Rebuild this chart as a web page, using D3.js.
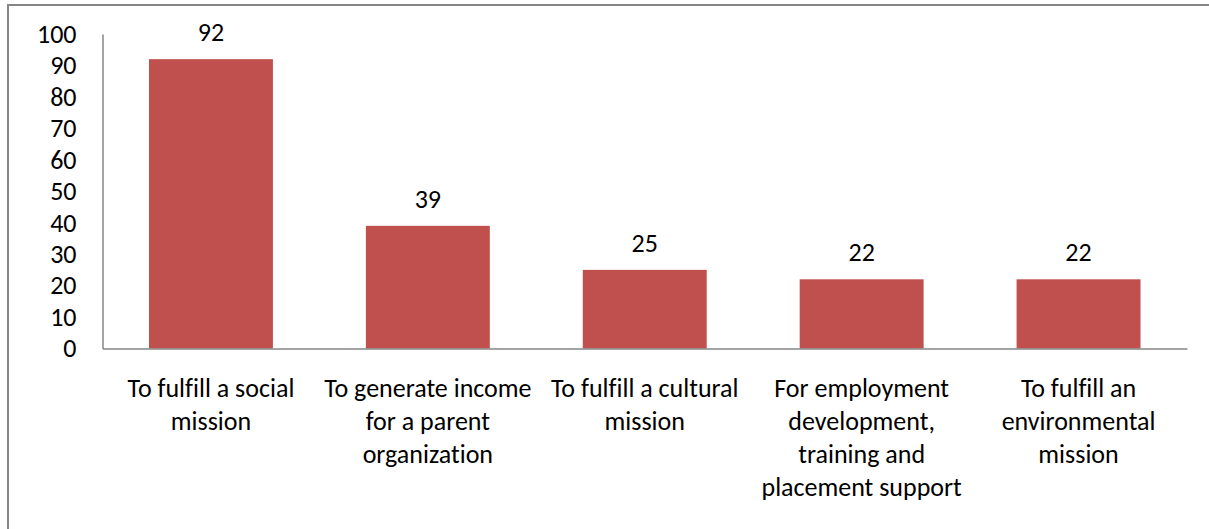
<!DOCTYPE html>
<html><head><meta charset="utf-8">
<script src="https://cdn.jsdelivr.net/npm/d3@7"></script>
<style>
html,body{margin:0;padding:0;background:#fff;}
svg{display:block;font-family:Carlito, Calibri, Lato, "Open Sans", sans-serif;font-variant-ligatures:none;}
</style></head>
<body>
<svg id="chart" width="1209" height="529"></svg>
<script>
const categories = [
  ["To fulfill a social", "mission"],
  ["To generate income", "for a parent", "organization"],
  ["To fulfill a cultural", "mission"],
  ["For employment", "development,", "training and", "placement support"],
  ["To fulfill an", "environmental", "mission"]
];
const values = [92, 39, 25, 22, 22];
const yTicks = [0, 10, 20, 30, 40, 50, 60, 70, 80, 90, 100];

(function () {
const svg = d3.select("#chart");
const mLeft = 102.5, mRight = 1187, mTop = 34, mBottom = 348.5;
const FS = 26;

// outer border (only top and left visible)
svg.append("rect").attr("x", 8).attr("y", 5).attr("width", 1230).attr("height", 560)
  .attr("fill", "none").attr("stroke", "#868686").attr("stroke-width", 2);

const x = d3.scaleBand().domain(d3.range(categories.length)).range([mLeft, mRight])
  .paddingInner(0.4286).paddingOuter(0.2143);
const y = d3.scaleLinear().domain([0, 100]).range([mBottom, mTop]);

svg.selectAll("rect.bar").data(values).enter().append("rect")
  .attr("class", "bar")
  .attr("x", (d, i) => x(i))
  .attr("width", x.bandwidth())
  .attr("y", d => y(d))
  .attr("height", d => y(0) - y(d))
  .attr("fill", "#C0504D");

// y axis
const yAxis = d3.axisLeft(y).tickValues(yTicks).tickSize(0).tickPadding(26);
const gy = svg.append("g").attr("transform", `translate(${mLeft},0)`).call(yAxis);
gy.attr("font-size", FS).attr("font-family", null);
gy.select(".domain").attr("stroke", "#868686").attr("stroke-width", 1.5);
gy.selectAll("text").attr("fill", "#000");

// x axis
const gx = svg.append("g").attr("transform", `translate(0,${mBottom})`)
  .call(d3.axisBottom(x).tickSize(0).tickFormat(""));
gx.select(".domain").attr("stroke", "#868686").attr("stroke-width", 1.5);

// category labels
categories.forEach((lines, i) => {
  const cx = x(i) + x.bandwidth() / 2;
  const t = svg.append("text")
    .attr("x", cx)
    .attr("text-anchor", "middle")
    .attr("font-size", FS)
    .attr("fill", "#000");
  lines.forEach((ln, j) => {
    t.append("tspan").attr("x", cx).attr("y", 397 + j * 33).text(ln);
  });
});

// value labels
svg.selectAll("text.val").data(values).enter().append("text")
  .attr("class", "val")
  .attr("x", (d, i) => x(i) + x.bandwidth() / 2)
  .attr("y", d => y(d) - 18)
  .attr("text-anchor", "middle")
  .attr("font-size", FS)
  .attr("fill", "#000")
  .text(d => d);
})();
</script>
</body></html>
